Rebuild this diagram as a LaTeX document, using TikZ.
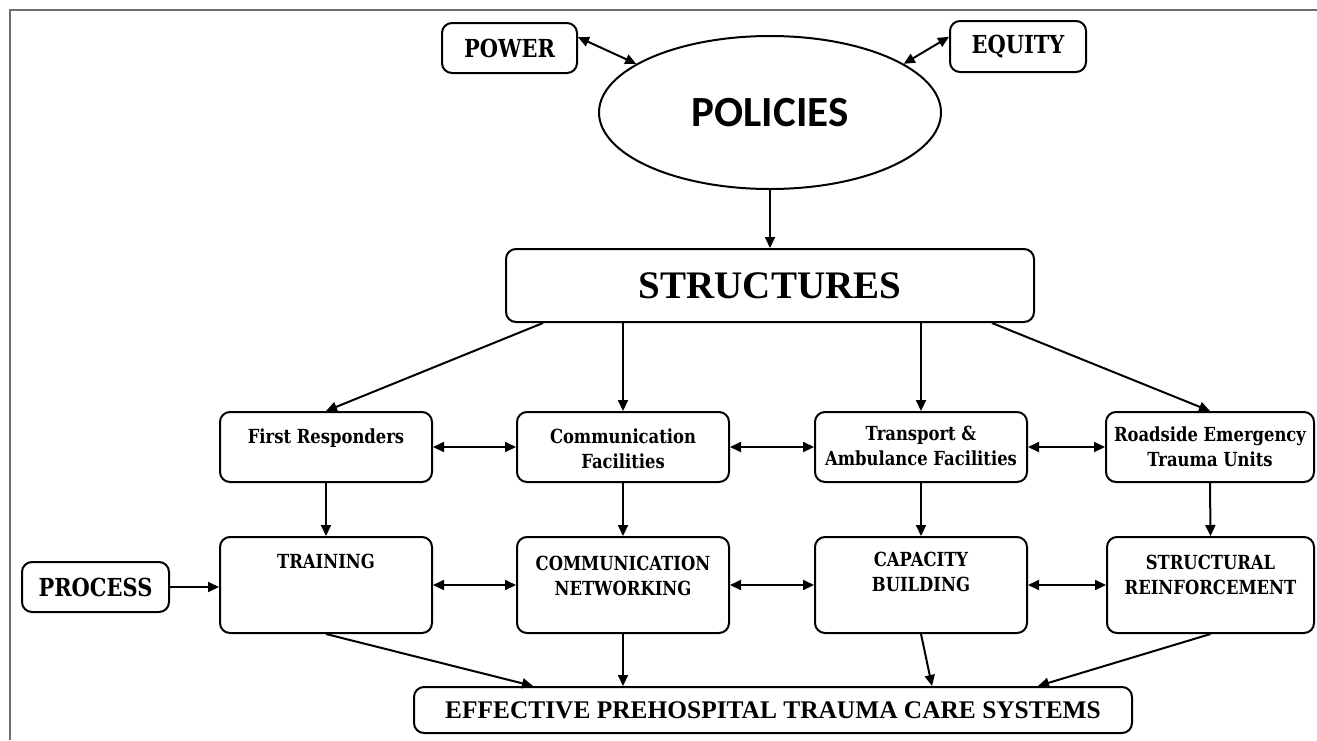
\documentclass[tikz,border=0pt]{standalone}
\usepackage{fontspec}
\setmainfont{Liberation Serif}
\newfontfamily\slab[FakeStretch=0.845]{DejaVu Serif}
\newfontfamily\calib{Carlito}
\usetikzlibrary{arrows.meta,shapes.geometric,calc}
\definecolor{framegray}{HTML}{6E6E6E}
\begin{document}
\begin{tikzpicture}[x=0.5pt,y=-0.5pt,
  box/.style={draw, line width=1pt, rounded corners=5pt, inner sep=0pt},
  arr/.style={line width=1pt,-{Triangle[length=5.5pt,width=5pt]}},
  darr/.style={line width=1pt,{Triangle[length=5.5pt,width=5pt]}-{Triangle[length=5.5pt,width=5pt]}},
  lbl/.style={font=\slab\bfseries\fontsize{9.7}{12.5}\selectfont, align=center, inner sep=0pt, anchor=north},
  big/.style={font=\slab\bfseries\fontsize{12.4}{14}\selectfont},
  rowone/.style={box, minimum width=106pt, minimum height=35pt},
  rowtwo/.style={box, minimum width=106pt, minimum height=48pt},
]
\useasboundingbox (0,0) rectangle (1317,740);
\fill[white] (0,0) rectangle (1317,740);
\draw[framegray, line width=1pt] (9.5,740) -- (9.5,9.5) -- (1317,9.5);

% top
\node[box, minimum width=67.5pt, minimum height=25pt, big] (power) at (509.5,48) {POWER};
\node[box, minimum width=68pt, minimum height=25.5pt, big] (equity) at (1018,46.5) {EQUITY};
\node[draw, ellipse, line width=1pt, minimum width=171pt, minimum height=76.5pt, inner sep=0pt,
      font=\calib\bfseries\fontsize{21.5}{25}\selectfont] (pol) at (770,112.5) {POLICIES};
\node[box, minimum width=264pt, minimum height=36.5pt, font=\bfseries\fontsize{19.5}{22}\selectfont] (str) at (770,285.5) {STRUCTURES};

% row one
\node[rowone] (fr) at (326,447) {};
\node[rowone] (cf) at (623,447) {};
\node[rowone] (taf) at (921,447) {};
\node[rowone, minimum width=104pt] (retu) at (1210,447) {};

% row two
\node[rowtwo] (tr) at (326,585) {};
\node[rowtwo] (cn) at (623,585) {};
\node[rowtwo] (cb) at (921,585) {};
\node[rowtwo, minimum width=103.5pt] (sr) at (1210.5,585) {};

\node[box, minimum width=73.5pt, minimum height=25pt, big] (proc) at (95.5,587) {PROCESS};
\node[box, minimum width=359pt, minimum height=23pt, font=\bfseries\fontsize{12.7}{15}\selectfont] (eff) at (773,710) {EFFECTIVE PREHOSPITAL TRAUMA CARE SYSTEMS};

% labels
\node[lbl] (frt) at ([yshift=-8.5pt]fr.north) {First Responders};
\node[lbl] (cft) at ([yshift=-8.5pt]cf.north) {Communication\\Facilities};
\node[lbl] (taft) at ([yshift=-7.5pt]taf.north) {Transport \&\\Ambulance Facilities};
\node[lbl] (retut) at ([yshift=-7.5pt]retu.north) {Roadside Emergency\\Trauma Units};
\node[lbl] (trt) at ([yshift=-9pt]tr.north) {TRAINING};
\node[lbl] (cnt) at ([yshift=-10pt]cn.north) {COMMUNICATION\\NETWORKING};
\node[lbl] (cbt) at ([yshift=-8pt]cb.north) {CAPACITY\\BUILDING};
\node[lbl] (srt) at ([yshift=-9.5pt]sr.north) {STRUCTURAL\\REINFORCEMENT};

% connectors
\draw[darr] (power.9) -- (pol.160);
\draw[darr] (equity.172) -- (pol.20);
\draw[arr] (pol.south) -- (str.north);
\draw[arr] ([xshift=19pt]str.south west) -- (fr.north);
\draw[arr] (str.south -| cf.north) -- (cf.north);
\draw[arr] (str.south -| taf.north) -- (taf.north);
\draw[arr] ([xshift=-21.5pt]str.south east) -- (retu.north);

\draw[darr] (fr.east) -- (cf.west);
\draw[darr] (cf.east) -- (taf.west);
\draw[darr] (taf.east) -- (retu.west);

\draw[arr] (fr.south) -- (tr.north);
\draw[arr] (cf.south) -- (cn.north);
\draw[arr] (taf.south) -- (cb.north);
\draw[arr] (retu.south) -- (sr.north);

\draw[arr] (proc.east) -- (proc.east -| tr.west);
\draw[darr] (tr.east) -- (cn.west);
\draw[darr] (cn.east) -- (cb.west);
\draw[darr] (cb.east) -- (sr.west);

\draw[arr] (tr.south) -- ([xshift=60pt]eff.north west);
\draw[arr] (cn.south) -- (cn.south |- eff.north);
\draw[arr] (cb.south) -- ([xshift=-100.5pt]eff.north east);
\draw[arr] (sr.south) -- ([xshift=-47.5pt]eff.north east);
\end{tikzpicture}
\end{document}
